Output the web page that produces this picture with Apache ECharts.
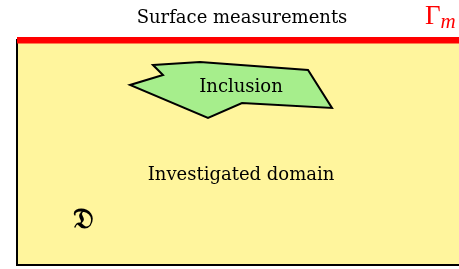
<!DOCTYPE html>
<html>
<head>
<meta charset="utf-8">
<script src="https://cdn.jsdelivr.net/npm/echarts@6/dist/echarts.min.js"></script>
<style>
  html,body{margin:0;padding:0;background:#fff;}
  #chart{width:459px;height:269px;}
</style>
</head>
<body>
<div id="chart"></div>
<script>
// 区域坐标 (像素坐标系, y向下)
const domainBox = [17, 40, 462, 265];      // 左, 上, 右, 下
const surfaceBar = [17, 37, 462, 43.5];
// 夹杂物多边形顶点
const inclusionX = [153, 200, 308, 332, 242, 208, 130, 163];
const inclusionY = [65, 62, 70, 108, 103, 118, 85, 75];
// 文字
const labels = [
  { text: 'Surface measurements', x: 242, y: 18, color: '#000' },
  { text: 'Inclusion', x: 241, y: 87, color: '#000' },
  { text: 'Investigated domain', x: 241, y: 175, color: '#000' }
];

let myChart = echarts.init(document.getElementById('chart'));

let rectItem = (box, fill, stroke) => ({
  renderItem: function (params, api) {
    const p1 = api.coord([box[0], box[1]]);
    const p2 = api.coord([box[2], box[3]]);
    return {
      type: 'rect',
      shape: { x: p1[0], y: p1[1], width: p2[0] - p1[0], height: p2[1] - p1[1] },
      style: { fill: fill, stroke: stroke, lineWidth: stroke ? 2 : 0 }
    };
  }
});

let option = {
  animation: false,
  grid: { left: 0, right: 0, top: 0, bottom: 0 },
  xAxis: { type: 'value', min: 0, max: 459, show: false },
  yAxis: { type: 'value', min: 0, max: 269, inverse: true, show: false },
  series: [
    {
      type: 'custom',
      data: [0],
      ...rectItem(domainBox, '#fff59d', '#000'),
      z: 1
    },
    {
      type: 'custom',
      data: [0],
      ...rectItem(surfaceBar, '#ff0000', null),
      z: 2
    },
    {
      // 夹杂物
      type: 'custom',
      data: [0],
      z: 3,
      renderItem: function (params, api) {
        const pts = inclusionX.map((x, i) => api.coord([x, inclusionY[i]]));
        return {
          type: 'polygon',
          shape: { points: pts },
          style: { fill: '#a6ee8c', stroke: '#000', lineWidth: 2, lineJoin: 'miter' }
        };
      }
    },
    {
      // 文字标签
      type: 'custom',
      data: labels.map(l => [l.x, l.y]),
      z: 4,
      renderItem: function (params, api) {
        const l = labels[params.dataIndex];
        const p = api.coord([l.x, l.y]);
        return {
          type: 'text',
          x: p[0], y: p[1],
          style: {
            text: l.text, fill: l.color,
            font: '18px "DejaVu Serif", serif',
            align: 'center', verticalAlign: 'middle'
          }
        };
      }
    }
  ],
  graphic: [
    {
      type: 'text', left: 425, top: 3, z: 10,
      style: { rich: {
        g: { font: '27px "Liberation Serif", serif', fill: '#ff0000' },
        m: { font: 'italic 21px "Liberation Serif", serif', fill: '#ff0000', padding: [12, 0, 0, 0] }
      }, text: '{g|Γ}{m|m}' }
    },
    {
      type: 'text', left: 73, top: 207, z: 10,
      style: { text: '𝔇', font: 'bold 28px "DejaVu Serif", "DejaVu Sans", serif', fill: '#000' }
    }
  ]
};
myChart.setOption(option);
window.addEventListener('resize', function () { myChart.resize(); });
</script>
</body>
</html>
